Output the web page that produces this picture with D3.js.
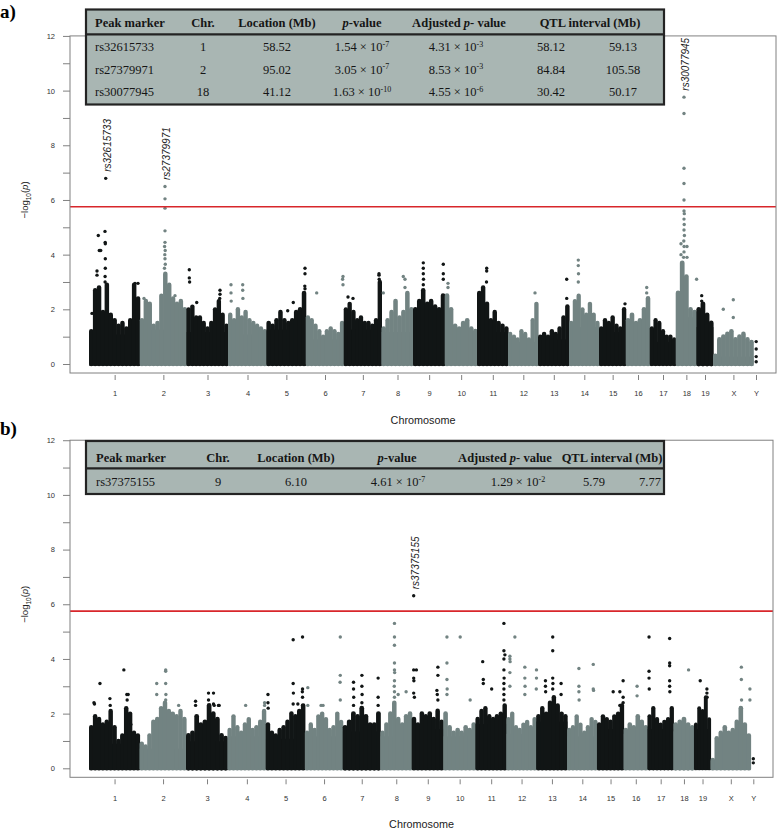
<!DOCTYPE html>
<html>
<head>
<meta charset="utf-8">
<script src="https://cdn.jsdelivr.net/npm/d3@7"></script>
<style>body{margin:0;background:#fff}</style>
</head>
<body>
<svg id="chart" width="777" height="829"></svg>
<script>
// chromosomes and their widths on the axis (thousand markers)
var chromosomes = ["1","2","3","4","5","6","7","8","9","10","11","12","13","14","15","16","17","18","19","X","Y"];
var chrSize = [50.7,46.7,41.6,38.4,39.3,38,37.7,31.6,31.7,32.3,31,30,31,30,26.7,24,26,20.7,16.6,40.2,5];
var yTicks = [0,1,2,3,4,5,6,7,8,9,10,11,12];
var threshold = 5.75;

// dense background: height of the point mass in equal bins along each chromosome
var densityA = [
  [1.2,2.7,2.8,1.9,2.9,1.8,1.6,1.4,1.5,1.3,1.6,2.9,2.4],
  [1.6,2.3,2.2,1.4,1.5,2.5,3.3,2.9,2.4,2.2,2.3,2.0],
  [2.0,2.1,1.7,1.7,1.5,1.3,1.5,2.0,2.3,1.8,1.4],
  [1.8,1.6,2.0,1.7,1.9,1.6,1.5,1.4,1.3,1.2],
  [1.5,1.4,1.6,1.9,1.6,1.5,1.6,1.9,2.0,2.6],
  [1.7,1.6,1.4,1.2,1.0,1.2,1.3,1.2,1.1,1.5],
  [2.0,2.2,1.9,1.6,1.7,1.5,1.5,1.4,1.6,3.0],
  [1.3,1.6,1.9,2.3,1.7,1.9,2.6,2.0],
  [2.0,2.3,2.7,2.2,2.3,2.1,2.0,2.5],
  [2.5,2.0,1.4,1.3,1.5,1.6,1.3,1.2],
  [2.6,2.8,2.2,1.6,1.9,1.5,1.4,1.3],
  [1.1,1.0,0.9,1.2,1.1,0.9,1.6,2.2],
  [1.0,1.1,1.0,1.2,1.1,1.3,1.7,2.1],
  [1.5,2.3,2.5,2.0,1.8,2.2,1.8,1.5],
  [1.3,1.6,1.5,1.7,1.4,1.3,2.0],
  [1.6,1.8,1.5,1.6,2.0,2.4],
  [1.3,1.6,1.5,1.2,1.0,1.0,0.9],
  [2.6,3.7,3.2,2.0,1.9],
  [2.0,2.2,1.8,1.5],
  [0.3,0.9,1.0,1.1,1.2,0.9,1.0,1.1,0.9,0.8],
  []
];
var densityB = [
  [1.5,1.9,1.8,1.6,1.7,2.1,1.5,1.0,1.2,2.2,2.0,1.3,1.2],
  [0.9,0.8,1.2,1.7,1.8,2.2,2.4,2.1,2.0,1.9,2.1,1.8],
  [1.2,1.3,1.9,1.6,1.7,2.3,2.0,1.8,1.2,1.1],
  [1.4,1.9,1.5,1.3,1.6,1.8,1.4,1.5,1.7,2.1],
  [1.6,1.3,1.2,1.4,1.5,1.7,2.0,1.9,2.1,2.3],
  [1.3,1.6,1.4,1.9,2.0,1.8,1.4,1.5,2.0,1.7],
  [1.5,1.7,2.0,1.9,2.2,1.9,1.6,1.6,2.0],
  [1.3,1.6,2.0,2.4,1.8,1.6,1.9,2.0],
  [1.8,1.6,2.0,1.9,2.0,1.8,2.1,1.7],
  [2.0,1.5,1.3,1.4,1.3,1.5,1.4,1.6],
  [1.8,2.1,2.2,1.9,1.8,1.9,2.0,2.3],
  [1.8,2.0,1.5,1.4,1.6,1.7,1.5,1.8],
  [1.9,2.2,2.0,2.4,2.6,2.3,2.0,1.9],
  [1.4,1.5,1.9,1.6,1.3,1.5,1.8,1.7],
  [1.6,1.9,1.8,1.7,1.9,2.0,2.3],
  [1.4,1.6,1.5,1.9,1.7,1.5],
  [1.9,2.2,1.8,1.6,1.7,1.8,2.2],
  [1.6,1.7,1.8,1.6,1.5],
  [1.6,2.2,2.1,2.6,1.8],
  [0.3,1.1,1.3,1.5,1.3,1.4,1.7,2.2,1.6,1.2],
  []
];

// single markers standing above the mass: [chromosome, offset in chromosome, -log10(p)]
var peaksA = [
  ["1",16.4,6.79],["1",9,4.7],["1",10,4.15],["1",11.4,4.15],["1",15.7,4.85],["1",15.9,4.45],["1",16,4.4],["1",16,3.85],["1",16,3.5],["1",15.8,3.2],["1",15.8,3.0],["1",7.7,3.4],["1",7.7,3.25],["1",2.7,1.85],["1",45.7,2.95],["1",48.7,2.95],
  ["2",25,6.49],["2",25,6.04],["2",25,5.7],["2",25,4.87],["2",25,4.45],["2",24.6,4.3],["2",25.2,4.15],["2",24.8,4.0],["2",25,3.85],["2",25.3,3.65],["2",24.5,3.5],["2",4,2.4],["2",35,2.5],
  ["3",2.6,3.45],["3",2.6,3.15],["3",2.9,3.0],["3",10,2.25],["3",33.3,2.7],["3",33.3,2.55],["3",33,2.4],
  ["4",2.7,2.9],["4",2.7,2.6],["4",2.9,2.3],["4",14.4,2.9],["4",14.4,2.7],["4",14.6,2.4],
  ["5",38.3,3.5],["5",38.3,3.3],["5",38.1,2.85],["5",38.3,2.75],["5",26.6,2.25],["5",21,1.95],
  ["6",10.7,2.6],["6",37,3.2],["6",36.6,3.1],["6",37,2.9],
  ["7",4,2.45],["7",9,2.4],["7",35,3.3],["7",35,3.25],["7",35.2,3.1],
  ["8",1.6,2.6],["8",21.6,3.2],["8",23.3,3.1],["8",23.3,2.8],
  ["9",10,3.7],["9",10,3.5],["9",10,3.3],["9",10.2,3.1],["9",10,2.9],["9",30,3.65],["9",30,3.3],["9",30,3.1],
  ["10",3,2.95],["10",3,2.8],
  ["11",9.4,3.5],["11",9.4,3.4],["11",9.2,3.0],
  ["12",26.7,2.6],
  ["13",28.4,3.1],["13",28.4,2.4],
  ["14",9,3.8],["14",9,3.6],["14",9.2,3.3],["14",9,3.0],
  ["15",25.7,2.2],
  ["16",20.7,2.8],["16",20.7,2.6],
  ["18",8,9.76],["18",8,9.16],["18",8,7.16],["18",8,6.6],["18",8,6.0],["18",8,5.6],["18",8.3,5.5],["18",8,5.3],["18",8.2,5.1],["18",8,4.9],["18",8.4,4.7],["18",7.8,4.5],["18",8.1,4.3],["18",8,4.1],["18",7.6,3.9],["18",5,4.4],["18",5,4.0],["18",11,4.3],["18",11,3.9],["18",20.6,3.1],
  ["19",5,2.5],["19",5,2.3],
  ["X",10,2.0],["X",20,2.35],["X",20,1.7],
  ["Y",2.7,0.82],["Y",2.7,0.55],["Y",2.7,0.27],["Y",2.7,0.08]
];
var peaksB = [
  ["1",10.7,3.1],["1",4.7,2.4],["1",5.2,2.35],["1",20.7,2.55],["1",21,2.3],["1",34.7,3.6],["1",37.7,2.7],["1",39,2.7],["1",38,2.5],["1",41.7,1.6],
  ["2",17,3.1],["2",17,2.7],["2",26,3.6],["2",26,3.55],["2",26,3.1],["2",26.2,2.7],["2",26,2.5],["2",39,2.3],
  ["3",9.3,2.45],["3",9.3,2.3],["3",22.3,2.75],["3",22.3,2.5],["3",27.3,2.75],["3",27.3,2.35],["3",28,2.3],["3",32.3,2.3],["3",33,2.3],
  ["4",37,2.4],["4",37,2.3],["4",18,2.3],
  ["5",2,2.7],["5",2,2.4],["5",2.2,2.2],["5",27.3,4.7],["5",27.3,3.1],["5",27.5,2.75],["5",27.3,2.35],["5",36.7,4.8],["5",36.7,2.9],["5",36.5,2.8],["5",36.7,2.6],["5",36.7,2.3],["5",32,2.35],
  ["6",2.7,2.95],["6",2.7,2.3],["6",16,2.3],["6",18,2.3],["6",35.3,4.8],["6",35.3,3.4],["6",35.1,3.15],["6",35.3,2.5],
  ["7",10.6,3.15],["7",10.6,2.9],["7",10.8,2.6],["7",10.6,2.3],["7",19,3.4],["7",19,3.0],["7",19.2,2.7],["7",19,2.4],["7",35.3,3.3],["7",35.3,2.6],["7",35.3,2.3],
  ["8",14,5.3],["8",14,4.8],["8",14,4.5],["8",14,3.85],["8",14,3.6],["8",14.2,3.5],["8",14,3.2],["8",13.8,3.0],["8",14,2.8],["8",14,2.6],["8",17.7,2.7],["8",25.7,2.8],
  ["9",1.7,6.31],["9",1.7,3.6],["9",4.4,3.6],["9",1.7,3.3],["9",1.9,3.2],["9",1.7,2.75],["9",2.4,2.6],["9",26,3.7],["9",26,3.4],["9",25,2.85],["9",25.4,2.7],["9",26,2.5],
  ["10",3.4,4.8],["10",3.4,3.85],["10",3.4,3.25],["10",3.6,2.9],["10",3.4,2.7],["10",16.7,4.8],["10",26.7,2.5],
  ["11",7,3.9],["11",7.6,3.25],["11",7.6,3.1],["11",16,2.9],["11",28.3,5.3],["11",28.3,4.3],["11",29.3,4.15],["11",28.3,4.0],["11",28.3,3.6],["11",28.5,3.3],["11",28.3,3.1],["11",28.3,2.9],["11",28.3,2.7],["11",28.3,2.5],
  ["12",3.3,4.1],["12",3.3,4.0],["12",3.5,3.9],["12",3.3,3.5],["12",3.3,3.0],["12",8.3,4.8],["12",18.3,3.7],["12",18.3,3.3],["12",18.5,3.0],["12",18.3,2.7],["12",30,3.6],["12",30,3.3],["12",29.8,2.9],
  ["13",16.3,4.8],["13",16.3,4.3],["13",16.3,3.3],["13",16.5,3.1],["13",16.3,2.9],["13",9,3.2],["13",9,3.0],["13",9.2,2.8],["13",24.7,3.1],["13",24.7,2.7],
  ["14",11.6,3.65],["14",11.6,3.0],["14",11.6,2.8],["14",11.8,2.5],["14",26,3.8],["14",26,2.9],["14",26.3,2.85],
  ["15",16,2.8],["15",22.7,2.8],["15",22.7,2.3],["15",26,3.2],["15",26,2.6],["15",26,2.4],
  ["16",13.3,3.0],["16",13.3,2.65],
  ["17",1.3,4.8],["17",1.3,3.55],["17",1.3,3.3],["17",1.5,2.9],["17",22,4.75],["17",22,3.85],["17",22,3.75],["17",22,3.2],["17",22,3.0],["17",22.2,2.8],
  ["18",15,3.6],
  ["19",6,3.2],["19",12.7,2.9],["19",12.7,2.75],["19",12.9,2.6],
  ["X",30.7,3.7],["X",30.7,3.25],["X",30.9,2.5],["X",30.7,2.2],["X",39.3,2.9],["X",39.3,2.5],
  ["Y",2.5,0.35],["Y",2.5,0.2]
];

// named peak markers: [name, chromosome, offset, -log10(p)]
var labelsA = [["rs32615733","1",16.4,6.79],["rs27379971","2",25,6.49],["rs30077945","18",8,9.76]];
var labelsB = [["rs37375155","9",1.7,6.31]];

// tables ( *p* = italic p )
var tableHeader = ["Peak marker","Chr.","Location (Mb)","*p*-value","Adjusted *p*- value","QTL interval (Mb)"];
var tableA = [
  ["rs32615733","1","58.52",["1.54","-7"],["4.31","-3"],"58.12","59.13"],
  ["rs27379971","2","95.02",["3.05","-7"],["8.53","-3"],"84.84","105.58"],
  ["rs30077945","18","41.12",["1.63","-10"],["4.55","-6"],"30.42","50.17"]
];
var tableB = [
  ["rs37375155","9","6.10",["4.61","-7"],["1.29","-2"],"5.79","7.77"]
];

var svg = d3.select("#chart");
var sans = "'Liberation Sans', Arial, Helvetica, sans-serif";
var serif = "'Liberation Serif', 'Times New Roman', Times, serif";
var black = "#111515", grey = "#728382";

var starts = [], acc = 0;
chrSize.forEach(function(s) { starts.push(acc); acc += s; });
var total = acc;

svg.append("rect").attr("width", 777).attr("height", 829).attr("fill", "#fff");

function drawPanel(p) {
  var g = svg.append("g");
  var x = d3.scaleLinear().domain([0, total]).range([89.3, p.xEnd]);
  var y = d3.scaleLinear().domain([0, 12]).range([p.y0, p.y0 - 12 * 27.34]);
  var left = 70, right = p.boxRight, top = y(12), bottom = p.y0 + 9;
  var chrIdx = function(c) { return chromosomes.indexOf(c); };
  var colour = function(i) { return i % 2 ? grey : black; };

  // dense mass: solid floor plus one column per bin
  chromosomes.forEach(function(c, i) {
    var bins = p.density[i];
    if (!bins.length) return;
    var bw = chrSize[i] / bins.length;
    var pw = x(bw) - x(0);
    var floor = d3.min(bins) * 0.9;
    g.append("rect")
      .attr("x", x(starts[i])).attr("width", x(chrSize[i]) - x(0))
      .attr("y", y(floor)).attr("height", y(0) - y(floor) + 1.8)
      .attr("fill", colour(i));
    g.append("g").selectAll("line").data(bins).join("line")
      .attr("x1", function(d, j) { return x(starts[i] + (j + 0.5) * bw); })
      .attr("x2", function(d, j) { return x(starts[i] + (j + 0.5) * bw); })
      .attr("y1", y(0))
      .attr("y2", function(d) { return y(d); })
      .attr("stroke", colour(i))
      .attr("stroke-width", pw + 0.6)
      .attr("stroke-linecap", "round");
  });

  // single markers
  g.append("g").selectAll("circle").data(p.peaks).join("circle")
    .attr("cx", function(d) { return x(starts[chrIdx(d[0])] + d[1]); })
    .attr("cy", function(d) { return y(d[2]); })
    .attr("r", 1.7)
    .attr("fill", function(d) { return colour(chrIdx(d[0])); });

  // threshold
  g.append("line")
    .attr("x1", left).attr("x2", right)
    .attr("y1", y(threshold)).attr("y2", y(threshold))
    .attr("stroke", "#d8262b").attr("stroke-width", 1.6);

  // box
  g.append("rect")
    .attr("x", left).attr("y", top)
    .attr("width", right - left).attr("height", bottom - top)
    .attr("fill", "none").attr("stroke", "#808080").attr("stroke-width", 1);

  // y axis
  var ya = g.append("g").attr("transform", "translate(" + left + ",0)")
    .call(d3.axisLeft(y).tickValues(yTicks).tickSize(7).tickPadding(8)
      .tickFormat(function(d) { return d % 2 ? "" : d; }));
  ya.select(".domain").remove();
  ya.selectAll("line").attr("stroke", "#808080");
  ya.selectAll("text").attr("font-family", sans).attr("font-size", 7.5).attr("fill", "#333");

  // x axis
  var xa = g.append("g").attr("transform", "translate(0," + (bottom + 2) + ")")
    .call(d3.axisBottom(x)
      .tickValues(chromosomes.map(function(c, i) { return starts[i] + chrSize[i] / 2; }))
      .tickSize(5).tickPadding(11)
      .tickFormat(function(d, i) { return chromosomes[i]; }));
  xa.select(".domain").remove();
  xa.selectAll("line").attr("stroke", "#808080");
  xa.selectAll("text").attr("font-family", sans).attr("font-size", 7.5).attr("fill", "#333");

  g.append("text")
    .attr("x", (left + right) / 2).attr("y", bottom + 51)
    .attr("text-anchor", "middle")
    .attr("font-family", sans).attr("font-size", 10.8).attr("fill", "#222")
    .text("Chromosome");

  var yl = g.append("text")
    .attr("transform", "translate(28," + ((top + y(0)) / 2) + ") rotate(-90)")
    .attr("text-anchor", "middle")
    .attr("font-family", sans).attr("font-size", 9.5).attr("fill", "#222");
  yl.append("tspan").text("\u2212log");
  yl.append("tspan").attr("font-size", 6.5).attr("dy", 2.5).text("10");
  yl.append("tspan").attr("dy", -2.5).text("(");
  yl.append("tspan").attr("font-style", "italic").text("p");
  yl.append("tspan").text(")");

  // peak names
  g.append("g").selectAll("text").data(p.labels).join("text")
    .attr("transform", function(d) {
      return "translate(" + (x(starts[chrIdx(d[1])] + d[2]) + 1.5) + "," + (y(d[3]) - 6.5) + ") rotate(-90)";
    })
    .attr("dy", "0.35em")
    .attr("font-family", sans).attr("font-style", "italic").attr("font-size", 10)
    .attr("fill", "#222")
    .text(function(d) { return d[0]; });

  // panel letter
  g.append("text")
    .attr("x", 0).attr("y", p.letterY)
    .attr("font-family", serif).attr("font-weight", "bold").attr("font-size", 19)
    .text(p.letter);

  drawTable(p.table, p.rows);
}

function richText(sel, str) {
  str.split("*").forEach(function(part, k) {
    if (!part) return;
    var t = sel.append("tspan").text(part);
    if (k % 2) t.attr("font-style", "italic");
  });
}

function sciText(sel, v) {
  sel.append("tspan").text(v[0] + " \u00d7 10");
  sel.append("tspan").attr("font-size", 8).attr("dy", -4.5).text(v[1]);
}

function drawTable(t, rows) {
  var tg = svg.append("g").attr("font-family", serif).attr("font-size", 12.5).attr("fill", "#151515");
  tg.append("rect")
    .attr("x", 86).attr("y", t.top).attr("width", 578).attr("height", t.bottom - t.top)
    .attr("fill", "#a9b6b3").attr("stroke", "#232323").attr("stroke-width", 2.2);
  tg.append("line")
    .attr("x1", 86).attr("x2", 664).attr("y1", t.headLine).attr("y2", t.headLine)
    .attr("stroke", "#232323").attr("stroke-width", 2.2);

  tableHeader.forEach(function(h, k) {
    var tx = tg.append("text")
      .attr("x", t.head[k]).attr("y", t.headY + 4)
      .attr("font-weight", "bold")
      .attr("text-anchor", k === 0 ? "start" : "middle");
    richText(tx, h);
  });

  rows.forEach(function(r, ri) {
    var yy = t.rowY[ri] + 4;
    r.forEach(function(v, k) {
      var tx = tg.append("text")
        .attr("x", t.cell[k]).attr("y", yy)
        .attr("text-anchor", k === 0 ? "start" : "middle");
      if (Array.isArray(v)) sciText(tx, v); else tx.text(v);
    });
  });
}

drawPanel({
  letter: "a)", letterY: 18,
  y0: 364, xEnd: 758.5, boxRight: 776,
  density: densityA, peaks: peaksA, labels: labelsA,
  rows: tableA,
  table: { top: 9.5, headLine: 34.3, bottom: 104.5, headY: 23, rowY: [47, 69.5, 92],
           head: [95, 203, 277, 362, 459, 590],
           cell: [95, 203, 277, 362, 456, 551, 623] }
});

drawPanel({
  letter: "b)", letterY: 435,
  y0: 768.3, xEnd: 755.8, boxRight: 773,
  density: densityB, peaks: peaksB, labels: labelsB,
  rows: tableB,
  table: { top: 441, headLine: 468.3, bottom: 494, headY: 457.5, rowY: [482],
           head: [96, 218, 296, 397, 505, 612],
           cell: [96, 218, 296, 398, 518, 594, 650] }
});
</script>
</body>
</html>
